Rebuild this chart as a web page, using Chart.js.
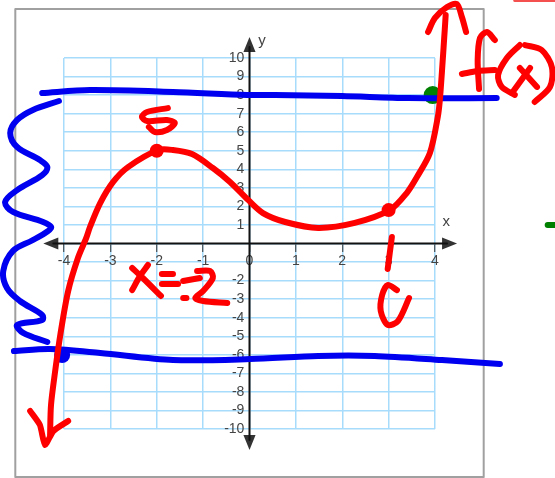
<!DOCTYPE html>
<html>
<head>
<meta charset="utf-8">
<title>f(x)</title>
<script src="https://cdn.jsdelivr.net/npm/chart.js@4"></script>
<style>
  html, body { margin: 0; padding: 0; background: #fff; }
  canvas { display: block; }
</style>
</head>
<body>
<canvas id="myChart" width="555" height="478"></canvas>
<script>
const curveX = [-4.30, -4.28, -4.19, -4.08, -3.91, -3.70, -3.52, -3.44, -3.22, -2.94, -2.62, -1.97, -1.65, -1.24, -0.79, -0.42, -0.03, 0.29, 0.77, 1.48, 2.27, 3.03, 3.39, 3.61, 3.89, 4.06, 4.11, 4.21, 4.23];
const curveY = [-10.32, -8.71, -6.87, -4.93, -2.56, -0.78, 0.30, 0.89, 2.18, 3.32, 4.12, 5.04, 5.04, 4.82, 4.07, 3.32, 2.35, 1.64, 1.16, 0.84, 1.11, 1.81, 2.72, 3.58, 4.88, 6.82, 7.90, 11.51, 12.32];

const arrowUpX = [3.85, 4.00, 4.26, 4.47, 4.58, 4.67];
const arrowUpY = [11.40, 12.16, 12.75, 12.91, 12.21, 11.40];
const arrowDownX = [-4.73, -4.52, -4.41, -4.23, -3.91];
const arrowDownY = [-9.03, -9.78, -10.86, -10.11, -9.57];

// handwriting, one list per pen stroke
const redStrokes = [
  [[5.29, 10.97], [5.12, 11.40], [4.97, 11.08], [4.92, 9.89], [4.95, 8.33]],
  [[4.58, 9.14], [4.92, 9.30], [5.29, 9.35]],
  [[5.83, 10.70], [5.55, 10.00], [5.36, 9.08], [5.44, 8.44], [5.72, 8.01]],
  [[5.83, 9.46], [6.20, 8.44]],
  [[6.05, 9.46], [5.66, 8.11]],
  [[5.94, 10.70], [6.30, 10.43], [6.52, 9.51], [6.48, 8.44], [6.15, 7.63]],
  [[-1.76, 7.30], [-2.21, 7.09], [-2.32, 6.82], [-2.21, 6.60], [-1.78, 6.66], [-1.61, 6.50], [-1.78, 6.12], [-2.04, 6.01], [-2.17, 6.28]],
  [[3.07, 0.35], [2.98, -1.37]],
  [[3.18, -2.51], [2.98, -2.24], [2.86, -2.78], [2.83, -3.64], [2.98, -4.39], [3.20, -4.18], [3.44, -2.94]],
  [[-2.53, -1.32], [-2.30, -1.86], [-1.91, -2.83]],
  [[-2.19, -1.16], [-2.36, -1.75], [-2.53, -2.51]],
  [[-1.89, -1.64], [-1.65, -1.64]],
  [[-1.89, -2.18], [-1.54, -2.18]],
  [[-1.43, -2.02], [-1.07, -1.86]],
  [[-1.43, -2.94], [-1.36, -2.94]],
  [[-1.13, -1.48], [-0.85, -1.48], [-0.79, -1.86], [-1.00, -2.56], [-1.17, -2.94], [-1.00, -3.10], [-0.48, -3.21]],
];

const blueTopX = [-4.47, -3.44, -1.65, -0.05, 0.55, 1.99, 3.42, 5.33];
const blueTopY = [8.11, 8.27, 8.17, 8.01, 8.01, 7.95, 7.84, 7.84];
const blueBottomX = [-5.08, -4.30, -3.22, -1.65, 0.01, 1.48, 2.70, 4.15, 5.40];
const blueBottomY = [-5.80, -5.69, -5.90, -6.28, -6.23, -6.06, -6.06, -6.28, -6.50];
const squiggleX = [-4.11, -4.67, -5.01, -5.16, -5.01, -4.52, -4.36, -4.47, -5.01, -5.27, -5.10, -4.45, -4.28, -4.67, -5.10, -5.31, -5.23, -4.95, -4.47, -4.47, -5.01, -4.88, -4.36];
const squiggleY = [7.68, 7.20, 6.66, 5.96, 5.20, 4.50, 4.12, 3.69, 2.88, 2.24, 1.70, 1.16, 0.84, 0.19, -0.40, -1.48, -2.40, -3.10, -3.85, -4.12, -4.39, -4.82, -5.31];

const redDots = [[-2, 5], [3, 1.8]];
const blueDots = [[-4.04, -6.01]];
const greenDots = [[3.95, 8]];

const axisArrows = [[0, 10.59], [0, -10.59], [-4.23, 0], [4.26, 0]];
const arrowTurns = [0, 180, 270, 90];
const frame = [[-5.05, 12.64], [5.05, 12.64], [5.05, -12.59], [-5.05, -12.59], [-5.05, 12.64]];
const redScrap = [[5.72, 13.1], [6.6, 13.1]];
const greenScrap = [[6.43, 1], [6.58, 1]];

const zip = (xs, ys) => xs.map((x, i) => ({ x: x, y: ys[i] }));
const pts = (list) => list.map((p) => ({ x: p[0], y: p[1] }));

function stroke(data, color, width, tension) {
  return {
    data: data,
    borderColor: color,
    borderWidth: width,
    borderCapStyle: "round",
    borderJoinStyle: "round",
    tension: tension,
    pointRadius: 0,
    clip: false,
  };
}

function dots(list, color, radius) {
  return {
    data: pts(list),
    showLine: false,
    backgroundColor: color,
    borderWidth: 0,
    pointRadius: radius,
    clip: false,
  };
}

// first dataset ends up on top
const datasets = [
  dots(redDots, "#ff0000", 7),
  stroke(zip(curveX, curveY), "#ff0000", 6, 0.3),
  stroke(zip(arrowUpX, arrowUpY), "#ff0000", 6, 0.3),
  stroke(zip(arrowDownX, arrowDownY), "#ff0000", 6, 0.2),
  ...redStrokes.map((s) => stroke(pts(s), "#ff0000", 6, 0.3)),
  stroke(zip(blueTopX, blueTopY), "#0000f0", 6, 0.3),
  stroke(zip(blueBottomX, blueBottomY), "#0000f0", 6, 0.3),
  stroke(zip(squiggleX, squiggleY), "#0000f0", 6, 0.35),
  dots(blueDots, "#0000f0", 8),
  dots(greenDots, "#008000", 9),
  stroke(pts(redScrap), "#f55050", 3, 0),
  stroke(pts(greenScrap), "#008000", 6, 0),
  stroke(pts([axisArrows[0], axisArrows[1]]), "#111", 2, 0),
  stroke(pts([axisArrows[2], axisArrows[3]]), "#111", 2, 0),
  stroke(pts(frame), "#a0a0a0", 2, 0),
];

// point elements outside the chart area get dropped, so the axis arrows and names go here
const axisExtras = {
  id: "axisExtras",
  beforeDatasetsDraw(chart) {
    const c = chart.ctx;
    const sx = chart.scales.x;
    const sy = chart.scales.y;
    c.save();
    c.fillStyle = "#333";
    axisArrows.forEach((p, i) => {
      const sideways = arrowTurns[i] % 180 !== 0;
      Chart.helpers.drawPointLegend(
        c,
        { pointStyle: "triangle", rotation: arrowTurns[i], radius: sideways ? 7 : 10, borderWidth: 0 },
        sx.getPixelForValue(p[0]),
        sy.getPixelForValue(p[1]),
        sideways ? 20 : 14
      );
    });
    c.font = "15px 'Liberation Sans'";
    c.fillStyle = "#444";
    c.textAlign = "center";
    c.textBaseline = "middle";
    c.fillText("y", sx.getPixelForValue(0.27), sy.getPixelForValue(10.9));
    c.fillText("x", sx.getPixelForValue(4.24), sy.getPixelForValue(1.15));
    c.restore();
  },
};

const gridColor = "#a8dcfc";

const config = {
  type: "line",
  data: { datasets: datasets },
  options: {
    responsive: false,
    animation: false,
    layout: { padding: { left: 64, right: 120, top: 58, bottom: 49 } },
    plugins: { legend: { display: false }, tooltip: { enabled: false } },
    events: [],
    scales: {
      x: {
        type: "linear",
        position: { y: 0 },
        // set here and not as min/max, a user min/max cuts sorted lines at the axis ends
        afterDataLimits: (s) => { s.min = -4; s.max = 4; },
        border: { display: false },
        grid: { color: gridColor, lineWidth: 1.5, tickColor: "#333", tickLength: 8, tickWidth: 1 },
        ticks: {
          stepSize: 1,
          autoSkip: false,
          maxRotation: 0,
          padding: 1,
          color: "#444",
          font: { family: "'Liberation Sans'", size: 14 },
        },
      },
      y: {
        type: "linear",
        // ticks.padding is ignored for an axis placed by value, so sit it just left of x = 0
        position: { x: -0.11 },
        afterDataLimits: (s) => { s.min = -10; s.max = 10; },
        border: { display: false },
        grid: { color: gridColor, lineWidth: 1.5, drawTicks: false },
        ticks: {
          stepSize: 1,
          autoSkip: false,
          color: "#444",
          font: { family: "'Liberation Sans'", size: 14 },
          callback: (v) => (v === 0 || v === -1 ? "" : v),
        },
      },
    },
  },
  plugins: [axisExtras],
};

const myChart = new Chart(document.getElementById("myChart"), config);
</script>
</body>
</html>
